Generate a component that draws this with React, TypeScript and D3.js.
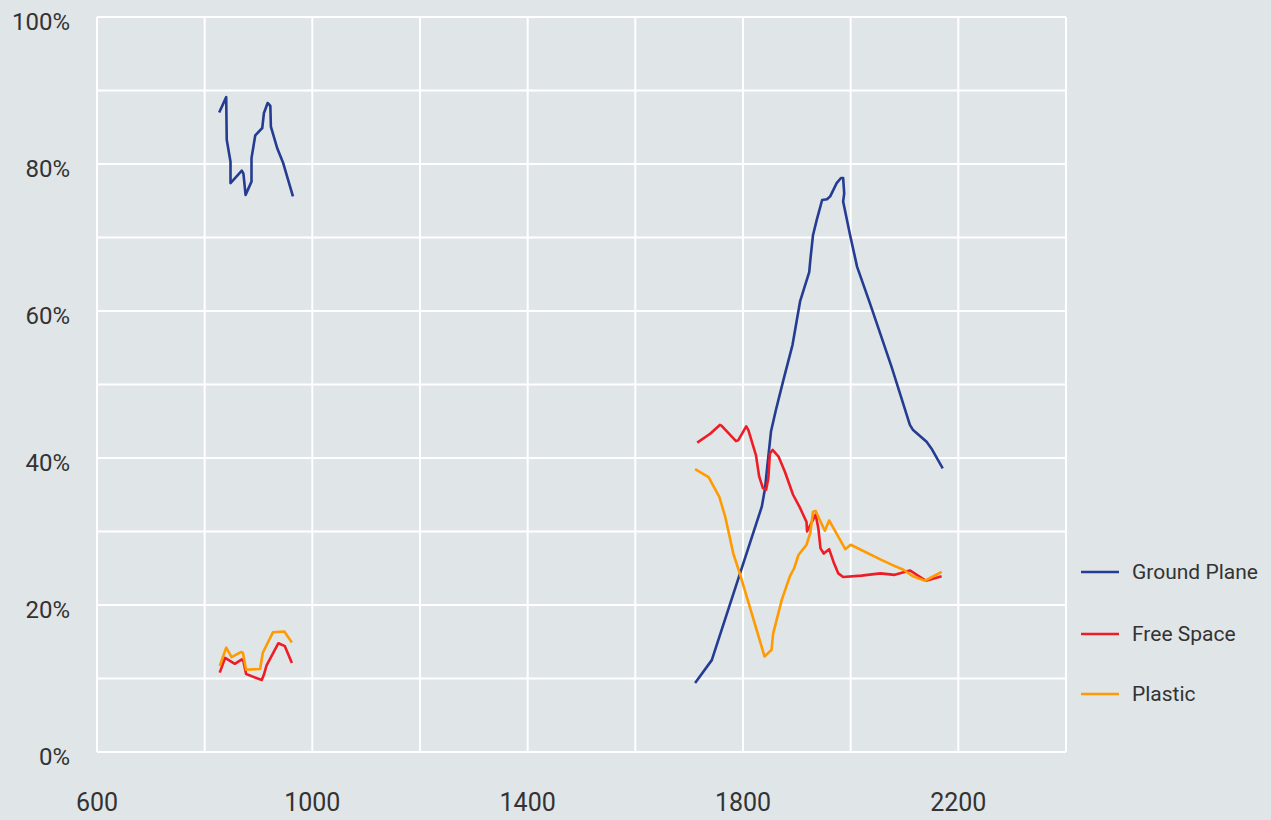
import React, { useEffect, useRef } from "react";
import * as d3 from "d3";

// [frequency, percent]
const groundPlaneLow = [
  [827, 87.0], [840, 89.1], [841, 83.3], [848, 80.3], [848, 77.4], [869, 79.1],
  [872, 78.7], [876, 75.8], [887, 77.6], [887, 80.8], [894, 83.9], [907, 84.9],
  [910, 86.9], [917, 88.3], [922, 87.9], [923, 85.1], [935, 82.1], [946, 80.1],
  [964, 75.6],
];
const groundPlaneHigh = [
  [1711, 9.4], [1742, 12.5], [1835, 33.4], [1841, 35.9], [1845, 38.8], [1852, 43.6],
  [1861, 46.5], [1875, 50.6], [1892, 55.4], [1906, 61.3], [1923, 65.3], [1925, 66.9],
  [1930, 70.3], [1937, 72.4], [1947, 75.1], [1956, 75.2], [1962, 75.6], [1974, 77.4],
  [1982, 78.1], [1986, 78.1], [1988, 76.0], [1986, 74.9], [1999, 70.3], [2012, 66.0],
  [2036, 61.0], [2076, 52.4], [2110, 44.5], [2116, 43.8], [2141, 42.2], [2150, 41.3],
  [2171, 38.6],
];
const freeSpaceLow = [
  [828, 10.8], [838, 12.8], [856, 12.0], [869, 12.6], [872, 12.3], [877, 10.6],
  [906, 9.8], [910, 10.5], [915, 11.8], [937, 14.8], [949, 14.4], [962, 12.1],
];
const freeSpaceHigh = [
  [1715, 42.1], [1739, 43.3], [1757, 44.5], [1760, 44.4], [1787, 42.3], [1791, 42.4],
  [1806, 44.3], [1810, 43.8], [1824, 40.4], [1830, 37.5], [1837, 35.9], [1843, 35.7],
  [1847, 37.2], [1850, 40.6], [1855, 41.1], [1866, 40.2], [1878, 38.1], [1893, 35.0],
  [1906, 33.2], [1918, 31.3], [1919, 30.0], [1928, 31.3], [1935, 32.3], [1940, 30.4],
  [1944, 27.7], [1950, 27.0], [1960, 27.6], [1968, 25.9], [1977, 24.3], [1986, 23.8],
  [2020, 24.0], [2055, 24.3], [2082, 24.1], [2110, 24.7], [2140, 23.3], [2169, 23.9],
];
const plasticLow = [
  [828, 11.7], [840, 14.2], [850, 12.9], [867, 13.6], [871, 13.5], [877, 11.2],
  [903, 11.3], [908, 13.5], [927, 16.3], [948, 16.4], [962, 14.9],
];
const plasticHigh = [
  [1711, 38.5], [1736, 37.4], [1756, 34.7], [1767, 32.0], [1782, 27.0], [1794, 24.3],
  [1840, 13.0], [1853, 13.9], [1856, 16.1], [1872, 20.7], [1887, 23.9], [1895, 25.0],
  [1903, 26.8], [1918, 28.2], [1925, 29.8], [1930, 32.7], [1935, 32.8], [1952, 30.1],
  [1960, 31.5], [1990, 27.6], [2000, 28.2], [2055, 26.2], [2079, 25.4], [2098, 24.8],
  [2116, 23.9], [2138, 23.3], [2169, 24.5],
];

const seriesNames = ["Ground Plane", "Free Space", "Plastic"];
const seriesColors = ["#243c91", "#ee1d25", "#ff9a00"];
const seriesSegments = [
  [groundPlaneLow, groundPlaneHigh],
  [freeSpaceLow, freeSpaceHigh],
  [plasticLow, plasticHigh],
];

const xGrid = [600, 800, 1000, 1200, 1400, 1600, 1800, 2000, 2200, 2400];
const xLabels = [600, 1000, 1400, 1800, 2200];
const yGrid = [0, 10, 20, 30, 40, 50, 60, 70, 80, 90, 100];
const yLabels = [0, 20, 40, 60, 80, 100];

const W = 1271;
const H = 820;
const font = "Roboto, sans-serif";

export default function App() {
  const ref = useRef<SVGSVGElement>(null);

  useEffect(() => {
    document.body.style.margin = "0";
    const svg = d3.select(ref.current);
    svg.selectAll("*").remove();

    const x = d3.scaleLinear().domain([600, 2400]).range([97, 1066]);
    const y = d3.scaleLinear().domain([0, 100]).range([752, 17]);

    svg.append("rect").attr("width", W).attr("height", H).attr("fill", "#e0e5e8");

    const grid = svg.append("g").attr("stroke", "#ffffff").attr("stroke-width", 2);
    grid
      .selectAll("line.v")
      .data(xGrid)
      .join("line")
      .attr("class", "v")
      .attr("x1", (d) => x(d))
      .attr("x2", (d) => x(d))
      .attr("y1", y(0))
      .attr("y2", y(100));
    grid
      .selectAll("line.h")
      .data(yGrid)
      .join("line")
      .attr("class", "h")
      .attr("x1", x(600))
      .attr("x2", x(2400))
      .attr("y1", (d) => y(d))
      .attr("y2", (d) => y(d));

    svg
      .append("g")
      .selectAll("text")
      .data(yLabels)
      .join("text")
      .attr("x", 70)
      .attr("y", (d) => y(d) + 5)
      .attr("dy", "0.35em")
      .attr("text-anchor", "end")
      .attr("font-family", font)
      .attr("font-size", 24)
      .attr("fill", "#333333")
      .text((d) => d + "%");

    svg
      .append("g")
      .selectAll("text")
      .data(xLabels)
      .join("text")
      .attr("x", (d) => x(d))
      .attr("y", 802)
      .attr("dy", "0.35em")
      .attr("text-anchor", "middle")
      .attr("font-family", font)
      .attr("font-size", 25)
      .attr("fill", "#333333")
      .text((d) => d);

    const line = d3
      .line<number[]>()
      .x((d) => x(d[0]))
      .y((d) => y(d[1]));

    seriesSegments.forEach((segs, i) => {
      segs.forEach((seg) => {
        svg
          .append("path")
          .attr("d", line(seg))
          .attr("fill", "none")
          .attr("stroke", seriesColors[i])
          .attr("stroke-width", 2.6)
          .attr("stroke-linejoin", "round");
      });
    });

    const legend = svg.append("g");
    const legendY = [572, 634, 694];
    seriesNames.forEach((name, i) => {
      legend
        .append("line")
        .attr("x1", 1081)
        .attr("x2", 1119)
        .attr("y1", legendY[i])
        .attr("y2", legendY[i])
        .attr("stroke", seriesColors[i])
        .attr("stroke-width", 2.6);
      legend
        .append("text")
        .attr("x", 1132)
        .attr("y", legendY[i])
        .attr("dy", "0.35em")
        .attr("font-family", font)
        .attr("font-size", 21)
        .attr("fill", "#333333")
        .text(name);
    });
  }, []);

  return <svg ref={ref} width={W} height={H} style={{ display: "block" }} />;
}
